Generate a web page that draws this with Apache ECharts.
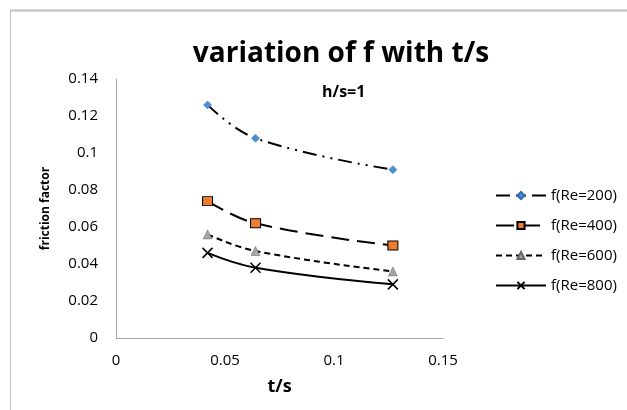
<!DOCTYPE html>
<html>
<head>
<meta charset="utf-8">
<script src="https://cdn.jsdelivr.net/npm/echarts@6/dist/echarts.min.js"></script>
<style>
  html, body { margin: 0; padding: 0; background: #fff; }
  #chart { width: 627px; height: 410px; }
</style>
</head>
<body>
<div id="chart"></div>
<script>
// t/s values
const ts = [0.042, 0.064, 0.127];
const re200 = [0.126, 0.108, 0.091];
const re400 = [0.074, 0.062, 0.050];
const re600 = [0.056, 0.047, 0.036];
const re800 = [0.046, 0.038, 0.029];
const seriesNames = ["f(Re=200)", "f(Re=400)", "f(Re=600)", "f(Re=800)"];

const font = "Open Sans";
const pairs = (ys) => ts.map((x, i) => [x, ys[i]]);

const chart = echarts.init(document.getElementById("chart"));
chart.setOption({
  animation: false,
  backgroundColor: "#fff",
  textStyle: { fontFamily: font },
  title: {
    text: "variation of f with t/s",
    left: 336,
    textAlign: "center",
    top: 35,
    textStyle: { fontSize: 28, fontWeight: "bold", color: "#000", fontFamily: font }
  },
  graphic: [
    {
      type: "line",
      z: 100,
      shape: { x1: 10, y1: 10.5, x2: 627, y2: 10.5 },
      style: { stroke: "#bfbfbf", lineWidth: 2 }
    },
    {
      type: "line",
      z: 100,
      shape: { x1: 10.5, y1: 10, x2: 10.5, y2: 410 },
      style: { stroke: "#bfbfbf", lineWidth: 1 }
    },
    {
      type: "text",
      z: 100,
      x: 322,
      y: 84,
      style: { text: "h/s=1", font: "bold 16px " + font, fill: "#000" }
    }
  ],
  legend: {
    orient: "vertical",
    left: 490,
    top: 183,
    itemGap: 15,
    itemWidth: 50,
    itemHeight: 9,
    textStyle: { fontSize: 15, color: "#000", fontFamily: font },
    data: seriesNames
  },
  grid: { left: 116, right: 184, top: 79, bottom: 72 },
  xAxis: {
    type: "value",
    min: 0,
    max: 0.15,
    interval: 0.05,
    name: "t/s",
    nameLocation: "middle",
    nameGap: 40,
    nameTextStyle: { fontWeight: "bold", fontSize: 18, color: "#000" },
    splitLine: { show: false },
    axisTick: { show: false },
    axisLine: { lineStyle: { color: "#a6a6a6" } },
    axisLabel: { color: "#000", fontSize: 15, margin: 15 }
  },
  yAxis: {
    type: "value",
    min: 0,
    max: 0.14,
    interval: 0.02,
    name: "friction factor",
    nameLocation: "middle",
    nameGap: 64,
    nameTextStyle: { fontWeight: "bold", fontSize: 12, color: "#000" },
    splitLine: { show: false },
    axisTick: { show: false },
    axisLine: { show: true, lineStyle: { color: "#a6a6a6" } },
    axisLabel: { color: "#000", fontSize: 15, margin: 18 }
  },
  series: [
    {
      name: seriesNames[0],
      type: "line",
      smooth: 0.4,
      data: pairs(re200),
      symbol: "diamond",
      symbolSize: 8,
      itemStyle: { color: "#4a8fd6", borderColor: "#2f6cb0", borderWidth: 0.5 },
      lineStyle: { color: "#000", width: 2, type: [14, 6, 2, 6, 2, 6] }
    },
    {
      name: seriesNames[1],
      type: "line",
      smooth: 0.4,
      data: pairs(re400),
      symbol: "rect",
      symbolSize: [10, 9],
      itemStyle: { color: "#ed7d31", borderColor: "#000", borderWidth: 1 },
      lineStyle: { color: "#000", width: 2, type: [18, 8] }
    },
    {
      name: seriesNames[2],
      type: "line",
      smooth: 0.4,
      data: pairs(re600),
      symbol: "triangle",
      symbolSize: 9,
      itemStyle: { color: "#a5a5a5", borderColor: "#666", borderWidth: 0.5 },
      lineStyle: { color: "#000", width: 2, type: [6, 4] }
    },
    {
      name: seriesNames[3],
      type: "line",
      smooth: 0.4,
      data: pairs(re800),
      symbol: "path://M0,0 L10,10 M10,0 L0,10",
      symbolSize: 10,
      itemStyle: { color: "none", borderColor: "#000", borderWidth: 1.5 },
      lineStyle: { color: "#000", width: 2 }
    }
  ]
});
</script>
</body>
</html>
